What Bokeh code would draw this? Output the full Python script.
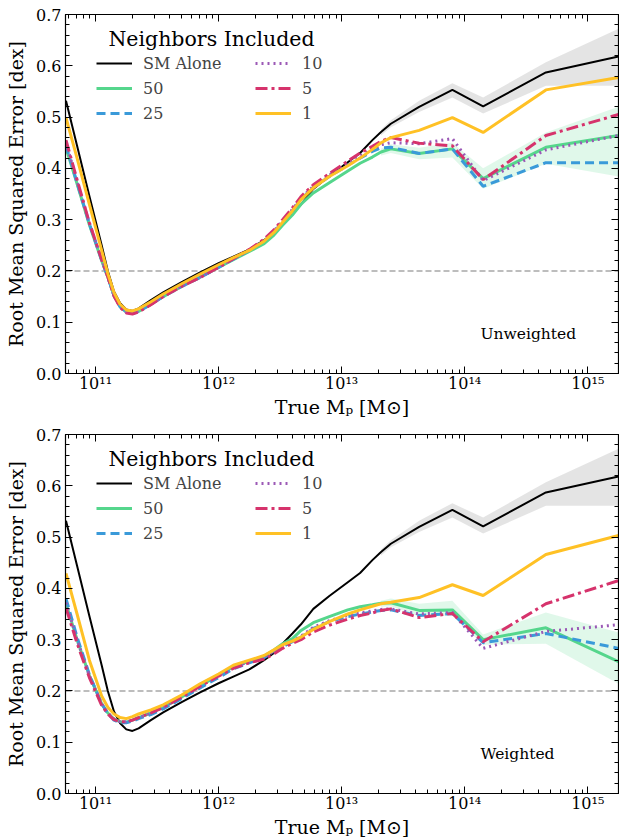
from bokeh.plotting import figure
from bokeh.layouts import column
from bokeh.models import (LogAxis, LinearAxis, Range1d, LogTicker, SingleIntervalTicker,
                          PrintfTickFormatter, CustomJSTickFormatter, Legend, LegendItem,
                          Label, Span)
from bokeh.embed import file_html
from bokeh.resources import INLINE

# ---------------- data ----------------
log_mass = [10.76, 10.85, 10.95, 11.05, 11.10, 11.15, 11.20, 11.25, 11.30, 11.35,
            11.45, 11.55, 11.70, 11.85, 12.00, 12.12, 12.25, 12.37, 12.45, 12.52,
            12.60, 12.67, 12.77, 12.90, 13.05, 13.15, 13.25, 13.32, 13.40, 13.63,
            13.90, 14.15, 14.66, 15.25]

sm_alone = [0.532, 0.444, 0.346, 0.250, 0.200, 0.160, 0.137, 0.125, 0.122, 0.127,
            0.143, 0.158, 0.178, 0.197, 0.215, 0.228, 0.242, 0.260, 0.274, 0.292,
            0.312, 0.330, 0.360, 0.385, 0.412, 0.430, 0.455, 0.471, 0.487, 0.520,
            0.553, 0.521, 0.587, 0.618]

# Unweighted
unw_50 = [0.440, 0.370, 0.290, 0.220, 0.188, 0.152, 0.130, 0.120, 0.117, 0.121,
          0.135, 0.150, 0.170, 0.188, 0.207, 0.222, 0.238, 0.253, 0.270, 0.289,
          0.309, 0.330, 0.352, 0.372, 0.395, 0.410, 0.422, 0.432, 0.438, 0.429,
          0.438, 0.380, 0.441, 0.464]
unw_25 = [0.445, 0.372, 0.292, 0.221, 0.188, 0.152, 0.130, 0.120, 0.117, 0.121,
          0.135, 0.150, 0.170, 0.187, 0.207, 0.223, 0.240, 0.258, 0.276, 0.296,
          0.318, 0.340, 0.363, 0.384, 0.406, 0.420, 0.433, 0.440, 0.441, 0.429,
          0.438, 0.365, 0.411, 0.411]
unw_10 = [0.450, 0.375, 0.293, 0.222, 0.189, 0.152, 0.130, 0.119, 0.117, 0.121,
          0.135, 0.150, 0.170, 0.188, 0.208, 0.224, 0.241, 0.260, 0.278, 0.298,
          0.320, 0.342, 0.365, 0.387, 0.410, 0.425, 0.437, 0.446, 0.450, 0.448,
          0.458, 0.376, 0.436, 0.464]
unw_5 = [0.455, 0.378, 0.294, 0.222, 0.188, 0.151, 0.129, 0.118, 0.116, 0.120,
         0.134, 0.150, 0.170, 0.187, 0.207, 0.224, 0.242, 0.262, 0.280, 0.300,
         0.323, 0.345, 0.368, 0.390, 0.414, 0.430, 0.443, 0.453, 0.460, 0.449,
         0.444, 0.378, 0.464, 0.505]
unw_1 = [0.499, 0.420, 0.330, 0.240, 0.195, 0.158, 0.135, 0.124, 0.122, 0.126,
         0.140, 0.155, 0.175, 0.194, 0.212, 0.226, 0.240, 0.258, 0.275, 0.295,
         0.317, 0.339, 0.362, 0.384, 0.405, 0.420, 0.437, 0.450, 0.460, 0.474,
         0.499, 0.470, 0.553, 0.577]

# Weighted
w_50 = [0.370, 0.300, 0.230, 0.175, 0.157, 0.145, 0.140, 0.139, 0.143, 0.148,
        0.157, 0.168, 0.188, 0.210, 0.230, 0.247, 0.258, 0.268, 0.280, 0.292,
        0.302, 0.318, 0.333, 0.345, 0.358, 0.364, 0.368, 0.371, 0.372, 0.357,
        0.358, 0.300, 0.323, 0.257]
w_25 = [0.380, 0.305, 0.232, 0.175, 0.156, 0.143, 0.138, 0.138, 0.141, 0.146,
        0.154, 0.165, 0.185, 0.206, 0.226, 0.243, 0.255, 0.265, 0.276, 0.286,
        0.296, 0.305, 0.322, 0.335, 0.345, 0.350, 0.354, 0.357, 0.358, 0.347,
        0.351, 0.294, 0.312, 0.283]
w_10 = [0.372, 0.300, 0.230, 0.175, 0.157, 0.145, 0.140, 0.140, 0.143, 0.148,
        0.157, 0.168, 0.188, 0.210, 0.230, 0.246, 0.257, 0.266, 0.277, 0.287,
        0.297, 0.307, 0.324, 0.337, 0.347, 0.352, 0.356, 0.359, 0.360, 0.350,
        0.353, 0.283, 0.316, 0.329]
w_5 = [0.362, 0.293, 0.226, 0.172, 0.155, 0.144, 0.140, 0.140, 0.143, 0.148,
       0.157, 0.168, 0.188, 0.209, 0.229, 0.244, 0.255, 0.262, 0.272, 0.283,
       0.293, 0.300, 0.315, 0.328, 0.340, 0.347, 0.352, 0.357, 0.360, 0.343,
       0.351, 0.296, 0.370, 0.415]
w_1 = [0.429, 0.350, 0.260, 0.190, 0.168, 0.155, 0.148, 0.146, 0.150, 0.155,
       0.163, 0.173, 0.192, 0.214, 0.233, 0.250, 0.260, 0.269, 0.280, 0.290,
       0.297, 0.305, 0.320, 0.335, 0.350, 0.358, 0.365, 0.370, 0.373, 0.382,
       0.407, 0.386, 0.466, 0.503]

# uncertainty bands
band_log_mass = [13.32, 13.40, 13.63, 13.90, 14.15, 14.66, 15.25]
sm_lo = [0.464, 0.480, 0.510, 0.538, 0.507, 0.561, 0.561]
sm_hi = [0.476, 0.494, 0.532, 0.566, 0.538, 0.607, 0.672]
unw_50_lo = [0.425, 0.430, 0.418, 0.421, 0.360, 0.409, 0.384]
unw_50_hi = [0.438, 0.447, 0.440, 0.450, 0.400, 0.470, 0.520]
w_50_lo = [0.364, 0.365, 0.345, 0.347, 0.290, 0.292, 0.214]
w_50_hi = [0.376, 0.380, 0.370, 0.376, 0.310, 0.353, 0.314]

labels = ["SM Alone", "50", "25", "10", "5", "1"]
threshold = 0.2

mass = [10 ** v for v in log_mass]
band_mass = [10 ** v for v in band_log_mass]

styles = {
    "SM Alone": dict(color="black", width=2.0, dash="solid"),
    "50": dict(color="#55d68c", width=3.0, dash="solid"),
    "25": dict(color="#3a9ad9", width=3.0, dash="9 5"),
    "10": dict(color="#9b59b6", width=3.0, dash="2 4"),
    "5": dict(color="#d6336c", width=3.0, dash="12 4 3 4"),
    "1": dict(color="#ffc125", width=3.0, dash="solid"),
}

FONT = "DejaVu Serif"
FH = 359  # frame height
SUP_CODE = """
const sup = {"0":"\\u2070","1":"\\u00b9","2":"\\u00b2","3":"\\u00b3","4":"\\u2074",
             "5":"\\u2075","6":"\\u2076","7":"\\u2077","8":"\\u2078","9":"\\u2079","-":"\\u207b"};
const e = Math.round(Math.log10(tick));
return "10" + String(e).split("").map(c => sup[c]).join("");
"""


def style_axis(ax, labels_on=True):
    ax.axis_line_color = "black"
    ax.axis_line_width = 1.2
    ax.major_tick_in = 7
    ax.major_tick_out = 0
    ax.minor_tick_in = 4
    ax.minor_tick_out = 0
    ax.major_tick_line_color = "black"
    ax.minor_tick_line_color = "black"
    ax.major_label_text_font = FONT
    ax.major_label_text_font_size = "16px"
    ax.major_label_text_color = "black"
    ax.axis_label_text_font = FONT
    ax.axis_label_text_font_size = "19px"
    ax.axis_label_text_font_style = "normal"
    ax.axis_label_text_color = "black"
    if not labels_on:
        ax.major_label_text_font_size = "0px"
        ax.major_label_standoff = 0


def make_panel(series, green_lo, green_hi, tag, top_border, bottom_border):
    p = figure(x_axis_type="log",
               x_range=Range1d(10 ** 10.756, 10 ** 15.25),
               y_range=Range1d(0, 0.700001),
               frame_width=553, frame_height=FH,
               min_border_left=65, min_border_right=1,
               min_border_top=top_border, min_border_bottom=bottom_border,
               output_backend="svg", toolbar_location=None)
    p.xgrid.visible = False
    p.ygrid.visible = False
    p.outline_line_color = "black"
    p.background_fill_color = "white"

    p.xaxis.ticker = LogTicker(num_minor_ticks=10)
    p.xaxis.formatter = CustomJSTickFormatter(code=SUP_CODE)
    p.xaxis.axis_label = "True M\u209a [M\u2299]"
    p.xaxis.major_label_standoff = 0
    p.xaxis.axis_label_standoff = 0
    p.yaxis.ticker = SingleIntervalTicker(interval=0.1, num_minor_ticks=5)
    p.yaxis.formatter = PrintfTickFormatter(format="%.1f")
    p.yaxis.axis_label = "Root Mean Squared Error [dex]"
    p.yaxis.major_label_standoff = 4
    p.yaxis.axis_label_standoff = 6
    style_axis(p.xaxis[0])
    style_axis(p.yaxis[0])

    top = LogAxis(ticker=LogTicker(num_minor_ticks=10),
                  formatter=CustomJSTickFormatter(code="return '';"))
    right = LinearAxis(ticker=SingleIntervalTicker(interval=0.1, num_minor_ticks=5),
                       formatter=CustomJSTickFormatter(code="return '';"))
    style_axis(top, False)
    style_axis(right, False)
    p.add_layout(top, "above")
    p.add_layout(right, "right")

    p.add_layout(Span(location=threshold, dimension="width", line_color="#a8a8a8",
                      line_dash="6 3", line_width=1.5, level="underlay"))

    p.varea(x=band_mass, y1=sm_lo, y2=sm_hi, fill_color="#d9d9d9", fill_alpha=0.7)
    p.varea(x=band_mass, y1=green_lo, y2=green_hi, fill_color="#55d68c", fill_alpha=0.18)

    renderers = {}
    for lab, ys in zip(labels, series):
        s = styles[lab]
        renderers[lab] = p.line(mass, ys, line_color=s["color"], line_width=s["width"],
                                line_dash=s["dash"])

    common = dict(border_line_color=None, background_fill_alpha=0,
                  label_text_font=FONT, label_text_font_size="16px",
                  glyph_width=36, glyph_height=20, label_height=20, spacing=5,
                  label_standoff=11, padding=0, margin=0)
    leg1 = Legend(items=[LegendItem(label=l, renderers=[renderers[l]]) for l in labels[:3]],
                  location=(31, FH - 39 - 70), **common)
    leg2 = Legend(items=[LegendItem(label=l, renderers=[renderers[l]]) for l in labels[3:]],
                  location=(190, FH - 39 - 70), **common)
    p.add_layout(leg1)
    p.add_layout(leg2)
    p.add_layout(Label(x=146, y=FH - 24, x_units="screen", y_units="screen",
                       text="Neighbors Included", text_font=FONT,
                       text_font_size="20.5px", text_align="center",
                       text_baseline="middle", text_color="black"))
    p.add_layout(Label(x=415, y=40, x_units="screen", y_units="screen",
                       text=tag, text_font=FONT, text_font_size="15.5px",
                       text_align="left", text_baseline="alphabetic", text_color="black"))
    return p


p1 = make_panel([sm_alone, unw_50, unw_25, unw_10, unw_5, unw_1],
                unw_50_lo, unw_50_hi, "Unweighted", 14, 47)
p2 = make_panel([sm_alone, w_50, w_25, w_10, w_5, w_1],
                w_50_lo, w_50_hi, "Weighted", 14, 45)

layout = column(p1, p2, spacing=0)
open("out.html", "w").write(file_html(layout, INLINE))
